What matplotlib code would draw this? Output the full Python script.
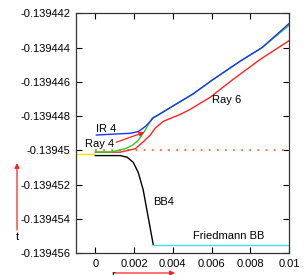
import matplotlib
matplotlib.use('Agg')
import matplotlib.pyplot as plt

plt.rcParams['font.family'] = ['Liberation Sans', 'DejaVu Sans']
plt.rcParams['font.size'] = 8

# r (x) and t (y) samples
yellow_r = [-0.001, 0.0]
yellow_t = [-0.1394502, -0.1394502]

bb4_r = [0.0, 0.00098, 0.00129, 0.00165, 0.00196, 0.00222, 0.00247, 0.00273, 0.00299]
bb4_t = [-0.1394503, -0.1394503, -0.1394503, -0.1394504, -0.1394507, -0.1394513,
         -0.1394523, -0.1394539, -0.1394555]

fried_r = [0.00299, 0.01]
fried_t = [-0.1394555, -0.1394555]

dot_r = [0.0, 0.01]
dot_t = [-0.13945, -0.13945]

ray6_r = [0.0, 0.00129, 0.00206, 0.00247, 0.00284, 0.00309, 0.00351, 0.00438,
          0.0049, 0.00593, 0.00706, 0.0085, 0.01]
ray6_t = [-0.1394501, -0.1394501, -0.1394499, -0.1394495, -0.1394491, -0.1394487,
          -0.1394483, -0.1394479, -0.1394476, -0.1394469, -0.1394459, -0.1394447,
          -0.1394436]

ray4_r = [0.0, 0.00077, 0.00155, 0.00191, 0.00222, 0.00253, 0.00273, 0.00294,
          0.00314, 0.00387, 0.00505, 0.00603, 0.00747, 0.00861, 0.01]
ray4_t = [-0.1394501, -0.1394501, -0.1394499, -0.1394497, -0.1394494, -0.1394489,
          -0.1394485, -0.1394481, -0.1394480, -0.1394475, -0.1394467, -0.1394459,
          -0.1394448, -0.1394440, -0.1394427]

ir4_r = [0.00005, 0.0018, 0.00222, 0.00258, 0.00284, 0.00299, 0.00314, 0.00387,
         0.00505, 0.00603, 0.00747, 0.00861, 0.01]
ir4_t = [-0.1394491, -0.1394490, -0.1394489, -0.1394486, -0.1394483, -0.1394481,
         -0.1394480, -0.1394475, -0.1394467, -0.1394459, -0.1394448, -0.1394440,
         -0.1394426]

x_ticks = [0, 0.002, 0.004, 0.006, 0.008, 0.01]
x_labels = ['0', '0.002', '0.004', '0.006', '0.008', '0.01']
y_ticks = [-0.139442, -0.139444, -0.139446, -0.139448, -0.13945, -0.139452, -0.139454, -0.139456]
y_labels = ['-0.139442', '-0.139444', '-0.139446', '-0.139448', '-0.13945',
            '-0.139452', '-0.139454', '-0.139456']

fig = plt.figure(figsize=(3.08, 2.75), dpi=100)
ax = fig.add_axes([76 / 308, 1 - 253.3 / 275, 213 / 308, 240 / 275])

ax.plot(yellow_r, yellow_t, color='#e8e800', lw=1)
ax.plot(bb4_r, bb4_t, color='black', lw=1)
ax.plot(fried_r, fried_t, color='#40e0e8', lw=1)
ax.plot(dot_r, dot_t, color='#ff6a20', lw=1.3, ls=(0, (1, 3.5)))
ax.plot(ray6_r, ray6_t, color='#ff2020', lw=1)
ax.plot(ray4_r, ray4_t, color='#20d020', lw=1)
ax.plot(ir4_r, ir4_t, color='#2030ff', lw=1)

ax.text(0.00005, -0.13944875, 'IR 4', ha='left', va='center')
ax.text(0.00098, -0.1394496, 'Ray 4', ha='right', va='center')
ax.text(0.00603, -0.13944706, 'Ray 6', ha='left', va='center')
ax.text(0.00299, -0.139453, 'BB4', ha='left', va='center')
ax.text(0.00505, -0.13945499, 'Friedmann BB', ha='left', va='center')
ax.annotate('', xy=(0.00253, -0.13944894), xytext=(0.00108, -0.13944952),
            arrowprops=dict(arrowstyle='-|>', color='#ff2020', lw=0.9,
                            mutation_scale=7, shrinkA=0, shrinkB=0))

ax.set_xlim(-0.001, 0.01)
ax.set_ylim(-0.139456, -0.139442)
ax.set_xticks(x_ticks)
ax.set_xticklabels(x_labels)
ax.set_yticks(y_ticks)
ax.set_yticklabels(y_labels)
ax.tick_params(direction='in', length=4, width=0.8, top=True, right=True, pad=4)
for s in ax.spines.values():
    s.set_linewidth(0.9)
    s.set_color('#333333')

# axis arrows drawn in figure pixels, like the original
fig_arrow = dict(arrowstyle='-|>', color='#ff2020', lw=0.9, mutation_scale=7,
                 shrinkA=0, shrinkB=0)
ax.annotate('', xy=(17, 275 - 163), xytext=(17, 275 - 230),
            xycoords='figure pixels', textcoords='figure pixels', arrowprops=fig_arrow)
fig.text(17 / 308, 1 - 237 / 275, 't', ha='center', va='center')
ax.annotate('', xy=(175, 2), xytext=(115, 2),
            xycoords='figure pixels', textcoords='figure pixels', arrowprops=fig_arrow)
fig.text(113 / 308, 1 - 270 / 275, 'r', ha='center', va='top')

fig.savefig('out.png', dpi=100)
